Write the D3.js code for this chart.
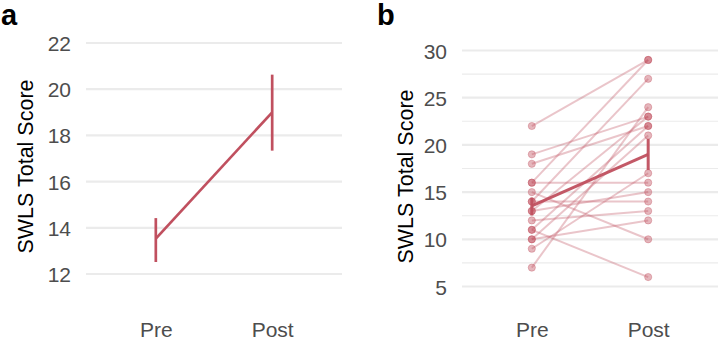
<!DOCTYPE html>
<html>
<head>
<meta charset="utf-8">
<script src="https://cdn.jsdelivr.net/npm/d3@7"></script>
<style>
  html, body { margin: 0; padding: 0; background: #fff; }
  svg { display: block; font-family: "Liberation Sans", Arial, sans-serif; }
</style>
</head>
<body>
<svg id="chart" width="720" height="342"></svg>
<script>
// ---------- data ----------
const categories = ["Pre", "Post"];
const meanScores = [13.53, 19.0];
const ciLower = [12.52, 17.34];
const ciUpper = [14.42, 20.63];
// individual participants (paired)
const preScores  = [22, 19, 18, 16, 16, 14, 15, 14, 13, 13, 12, 11, 11, 10, 10, 9, 7];
const postScores = [29, 23, 22, 16, 29, 27, 10, 14, 15, 23, 13, 22, 6, 12, 21, 17, 24];
const ticksA = [12, 14, 16, 18, 20, 22];
const ticksB = [5, 10, 15, 20, 25, 30];
const minorTicksB = [7.5, 12.5, 17.5, 22.5, 27.5];
const yTitle = "SWLS Total Score";
const panelLabels = ["a", "b"];

// ---------- drawing ----------
const color = "#c0505f";
const svg = d3.select("#chart");

function panel(opts) {
  const g = svg.append("g");
  const x = d3.scaleLinear().domain([0.4, 2.6]).range([opts.x0, opts.x1]);
  const y = d3.scaleLinear().domain(opts.yDomain).range(opts.yRange);
  const xc = i => x(i + 1);

  // minor grid
  g.selectAll(".minor").data(opts.minor || []).join("line")
    .attr("x1", opts.x0).attr("x2", opts.x1)
    .attr("y1", d => y(d)).attr("y2", d => y(d))
    .attr("stroke", "#ebebeb").attr("stroke-width", 1.1);
  // major grid
  g.selectAll(".major").data(opts.ticks).join("line")
    .attr("x1", opts.x0).attr("x2", opts.x1)
    .attr("y1", d => y(d)).attr("y2", d => y(d))
    .attr("stroke", "#ebebeb").attr("stroke-width", 2.2);

  // y axis labels via d3 axis
  const yAxis = d3.axisLeft(y).tickValues(opts.ticks).tickSize(0).tickPadding(0);
  const ya = g.append("g").attr("transform", `translate(${opts.x0 - 15},0)`).call(yAxis);
  ya.select(".domain").remove();
  ya.selectAll("text").attr("fill", "#4d4d4d").style("font-size", "21px")
    .attr("dy", "0.36em").style("font-family", "Liberation Sans, Arial, sans-serif");

  // x axis labels
  const xAxis = d3.axisBottom(d3.scalePoint().domain(categories).range([xc(0), xc(1)]))
    .tickSize(0).tickPadding(0);
  const xa = g.append("g").attr("transform", `translate(0,322)`).call(xAxis);
  xa.select(".domain").remove();
  xa.selectAll("text").attr("fill", "#4d4d4d").style("font-size", "21px")
    .attr("dy", "0.72em").style("font-family", "Liberation Sans, Arial, sans-serif");

  // y title
  g.append("text")
    .attr("transform", `translate(${opts.titleX},${(opts.yRange[0] + opts.yRange[1]) / 2 + 8}) rotate(-90)`)
    .attr("text-anchor", "middle")
    .style("font-size", "21.5px").attr("fill", "#000")
    .text(yTitle);

  // panel tag
  g.append("text").attr("x", opts.tagX).attr("y", 25)
    .style("font-size", "29px").style("font-weight", "bold").attr("fill", "#000")
    .text(opts.tag);

  return { g, x, y, xc };
}

// Panel a
const A = panel({ x0: 86, x1: 342, yDomain: [12, 22], yRange: [274, 43],
  ticks: ticksA, titleX: 33, tagX: 1, tag: panelLabels[0] });
A.g.append("path")
  .datum(meanScores)
  .attr("d", d3.line().x((d, i) => A.xc(i)).y(d => A.y(d)))
  .attr("fill", "none").attr("stroke", color).attr("stroke-width", 2.7);
A.g.selectAll(".err").data(meanScores).join("line")
  .attr("x1", (d, i) => A.xc(i)).attr("x2", (d, i) => A.xc(i))
  .attr("y1", (d, i) => A.y(ciLower[i])).attr("y2", (d, i) => A.y(ciUpper[i]))
  .attr("stroke", color).attr("stroke-width", 2.7);

// Panel b
const B = panel({ x0: 462, x1: 718, yDomain: [5, 30], yRange: [286.5, 50.5],
  ticks: ticksB, minor: minorTicksB, titleX: 413, tagX: 377, tag: panelLabels[1] });
const pairs = preScores.map((p, i) => [p, postScores[i]]);
B.g.selectAll(".ind").data(pairs).join("path")
  .attr("d", d3.line().x((d, i) => B.xc(i)).y(d => B.y(d)))
  .attr("fill", "none").attr("stroke", color).attr("stroke-opacity", 0.33)
  .attr("stroke-width", 2);
const pts = [];
pairs.forEach(pr => pr.forEach((v, i) => pts.push({ i, v })));
B.g.selectAll(".pt").data(pts).join("circle")
  .attr("cx", d => B.xc(d.i)).attr("cy", d => B.y(d.v)).attr("r", 3.6)
  .attr("fill", color).attr("fill-opacity", 0.42)
  .attr("stroke", color).attr("stroke-opacity", 0.35).attr("stroke-width", 1);
B.g.append("path")
  .datum(meanScores)
  .attr("d", d3.line().x((d, i) => B.xc(i)).y(d => B.y(d)))
  .attr("fill", "none").attr("stroke", color).attr("stroke-opacity", 0.95).attr("stroke-width", 3);
B.g.selectAll(".errb").data(meanScores).join("line")
  .attr("x1", (d, i) => B.xc(i)).attr("x2", (d, i) => B.xc(i))
  .attr("y1", (d, i) => B.y(ciLower[i])).attr("y2", (d, i) => B.y(ciUpper[i]))
  .attr("stroke", color).attr("stroke-opacity", 0.95).attr("stroke-width", 3);
</script>
</body>
</html>
